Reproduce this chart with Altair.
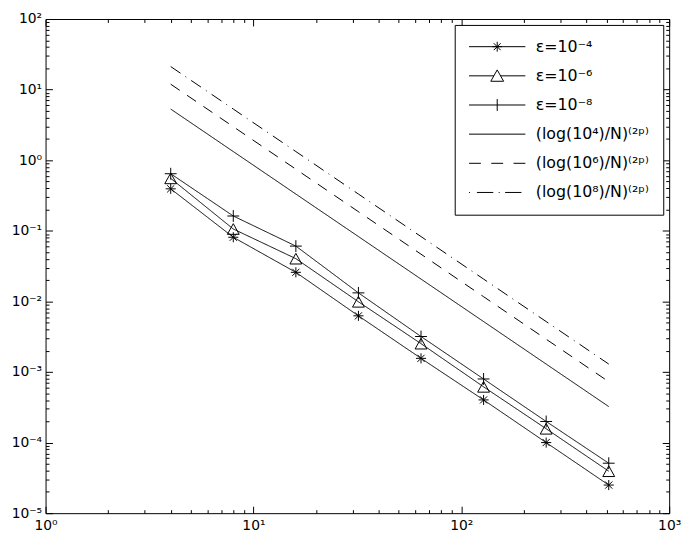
import altair as alt
import pandas as pd

# ---------------- data ----------------
N = [4, 8, 16, 32, 64, 128, 256, 512]
err_eps4 = [0.393, 0.081, 0.0258, 0.00624, 0.00156, 0.000402, 0.000100, 0.0000250]
err_eps6 = [0.553, 0.106, 0.0403, 0.00987, 0.00252, 0.000616, 0.000157, 0.0000393]
err_eps8 = [0.643, 0.162, 0.0607, 0.0132, 0.00318, 0.000796, 0.000199, 0.0000510]
ref_log4 = [5.302, 1.3255, 0.3314, 0.08284, 0.02071, 0.005178, 0.001294, 0.0003236]
ref_log6 = [11.929, 2.9823, 0.7456, 0.1864, 0.04660, 0.01165, 0.002912, 0.000728]
ref_log8 = [21.208, 5.302, 1.3255, 0.3314, 0.08284, 0.02071, 0.005178, 0.001294]

series_labels = ["ε=10⁻⁴", "ε=10⁻⁶", "ε=10⁻⁸",
                 "(log(10⁴)/N)⁽²ᵖ⁾", "(log(10⁶)/N)⁽²ᵖ⁾", "(log(10⁸)/N)⁽²ᵖ⁾"]
series_values = [err_eps4, err_eps6, err_eps8, ref_log4, ref_log6, ref_log8]

x_major = [1, 10, 100, 1000]
x_major_labels = ["10⁰", "10¹", "10²", "10³"]
y_major = [1e-5, 1e-4, 1e-3, 1e-2, 1e-1, 1, 10, 100]
y_major_labels = ["10⁻⁵", "10⁻⁴", "10⁻³", "10⁻²", "10⁻¹", "10⁰", "10¹", "10²"]
x_minor = [m * d for d in [1, 10, 100] for m in range(2, 10)]
y_minor = [m * d for d in [1e-5, 1e-4, 1e-3, 1e-2, 1e-1, 1, 10] for m in range(2, 10)]

rows = []
for lab, vals in zip(series_labels, series_values):
    for n, v in zip(N, vals):
        rows.append({"N": n, "err": v, "series": lab})
df = pd.DataFrame(rows)

# ---------------- styling ----------------
W, H = 631, 500
FONT = "DejaVu Sans"

dash_range = [[1, 0], [1, 0], [1, 0], [1, 0], [11, 9], [12, 6, 1, 6]]
marker_paths = [
    "M0,-0.85L0,0.85M-0.85,0L0.85,0M-0.6,-0.6L0.6,0.6M-0.6,0.6L0.6,-0.6",
    "M0,-0.9L1,0.9L-1,0.9Z",
    "M-1,0L1,0M0,-1L0,1",
]
legend_paths = [
    "M-5.7,0L5.7,0M0,-1L0,1M-1,0L1,0M-0.7,-0.7L0.7,0.7M-0.7,0.7L0.7,-0.7",
    "M-5.7,0L-0.65,0M0.65,0L5.7,0M0,-1.2L1.3,1.1L-1.3,1.1Z",
    "M-5.7,0L5.7,0M0,-1.2L0,1.2",
    "M-5.7,0L5.7,0",
    "M-5.7,0L-3.3,0M-1.2,0L1.2,0M3.3,0L5.7,0",
    "M-5.7,0L-5.5,0M-4.1,0L-0.8,0M0.3,0L0.5,0M1.6,0L4.9,0",
]

xs = alt.Scale(type="log", domain=[1, 1000], nice=False)
ys = alt.Scale(type="log", domain=[1e-5, 100], nice=False)

x_label_expr = "[" + ",".join("'%s'" % s for s in x_major_labels) + "][round(log(datum.value)/LN10)]"
y_label_expr = "[" + ",".join("'%s'" % s for s in y_major_labels) + "][round(log(datum.value)/LN10)+5]"

label_axis_common = dict(grid=False, ticks=False, domain=False, title=None,
                         labelFont=FONT, labelFontSize=14, labelColor="black",
                         labelFlush=False, labelOverlap=False)

base = alt.Chart(df)

lines = base.mark_line(color="black", strokeWidth=1, clip=True).encode(
    x=alt.X("N:Q", scale=xs, axis=alt.Axis(orient="bottom", values=x_major,
                                           labelExpr=x_label_expr, labelPadding=6,
                                           **label_axis_common)),
    y=alt.Y("err:Q", scale=ys, axis=alt.Axis(orient="left", values=y_major,
                                             labelExpr=y_label_expr, labelPadding=4,
                                             **label_axis_common)),
    detail="series:N",
    strokeDash=alt.StrokeDash("series:N", scale=alt.Scale(domain=series_labels, range=dash_range),
                              legend=None),
)

points = base.transform_filter(
    alt.FieldOneOfPredicate(field="series", oneOf=series_labels[:3])
).mark_point(filled=False, color="black", strokeWidth=1, size=144, opacity=1).encode(
    x=alt.X("N:Q", scale=xs, axis=None),
    y=alt.Y("err:Q", scale=ys, axis=None),
    shape=alt.Shape("series:N", scale=alt.Scale(domain=series_labels[:3], range=marker_paths),
                    legend=None),
)

legend_layer = base.mark_point(filled=False, color="black", strokeWidth=1, opacity=0).encode(
    x=alt.X("N:Q", scale=xs, axis=None),
    y=alt.Y("err:Q", scale=ys, axis=None),
    shape=alt.Shape("series:N", scale=alt.Scale(domain=series_labels, range=legend_paths),
                    legend=alt.Legend(title=None, orient="none", legendX=414, legendY=6,
                                      strokeColor="black", fillColor="white", padding=14,
                                      labelFont=FONT, labelFontSize=16, labelColor="black",
                                      symbolSize=100, symbolStrokeWidth=1,
                                      symbolStrokeColor="black", symbolOpacity=1,
                                      symbolFillColor="transparent",
                                      symbolOffset=21, labelOffset=31, rowPadding=13.5,
                                      cornerRadius=0)),
)


def tick_layer(x_vals, y_vals, size, x_orient, y_orient):
    tick_common = dict(grid=False, labels=False, domain=False, title=None, ticks=True,
                       tickSize=size, tickColor="black", tickWidth=1)
    return base.mark_point(opacity=0).encode(
        x=alt.X("N:Q", scale=xs, axis=alt.Axis(orient=x_orient, offset=-H, values=x_vals,
                                               **tick_common)),
        y=alt.Y("err:Q", scale=ys, axis=alt.Axis(orient=y_orient, offset=-W, values=y_vals,
                                                 **tick_common)),
    )


ticks_major_a = tick_layer(x_major, y_major, 7, "top", "right")
ticks_major_b = tick_layer(x_major, y_major, 7, "bottom", "left")
ticks_minor_a = tick_layer(x_minor, y_minor, 3.5, "top", "right")
ticks_minor_b = tick_layer(x_minor, y_minor, 3.5, "bottom", "left")

chart = alt.layer(
    ticks_major_a, ticks_major_b, ticks_minor_a, ticks_minor_b,
    lines, points, legend_layer,
).resolve_scale(
    shape="independent", strokeDash="independent"
).resolve_axis(
    x="independent", y="independent"
).properties(
    width=W, height=H,
    autosize=alt.AutoSizeParams(type="none"),
    padding={"left": 38, "top": 8, "right": 15, "bottom": 23},
).configure_view(
    stroke="black", strokeWidth=1
)

chart.save("out.html", embed_options={"renderer": "svg", "actions": False})
